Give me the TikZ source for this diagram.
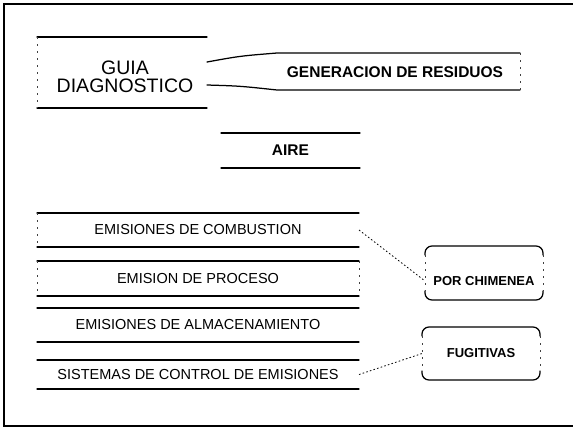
\documentclass[tikz,border=0pt]{standalone}
\usepackage{fontspec}
\setmainfont{Liberation Sans}
\begin{document}
\begin{tikzpicture}[x=1pt,y=-1pt,
  frame/.style={line width=2pt},
  bandline/.style={line width=1.25pt, line cap=round},
  sideline/.style={line width=0.5pt, dash pattern=on 2pt off 5pt, black!75},
  link/.style={line width=0.8pt, dash pattern=on 1.6pt off 2.2pt},
  box/.style={inner sep=0pt, outer sep=0pt},
  bigtxt/.style={inner sep=0pt, font=\fontsize{19.5}{18}\selectfont, align=center},
  boldtxt/.style={inner sep=0pt, font=\fontsize{15.5}{18}\selectfont\bfseries},
  regtxt/.style={inner sep=0pt, font=\fontsize{14.5}{16}\selectfont},
  smalltxt/.style={inner sep=0pt, font=\fontsize{13}{15}\selectfont\bfseries}
]
\useasboundingbox (0,0) rectangle (573,432);
\draw[frame] (573,4) -- (4,4) -- (4,426) -- (573,426);

% GUIA DIAGNOSTICO
\node[box, minimum width=170pt, minimum height=71pt] (guia) at (122,72.5) {};
\node[bigtxt] (guiat) at (125,77) {GUIA\\DIAGNOSTICO};
\draw[bandline] (guia.north west) -- (guia.north east);
\draw[bandline] (guia.south west) -- (guia.south east);
\draw[sideline] (guia.north west) -- (guia.south west);

% GENERACION DE RESIDUOS
\node[box, minimum width=243pt, minimum height=37pt] (gen) at (398.5,71.5) {};
\node[boldtxt] (gent) at (395,72) {GENERACION DE RESIDUOS};
\coordinate (g1) at (207,62);
\coordinate (g2) at (207,85);
\draw[bandline] (g1) .. controls (240,56) .. (gen.north west) -- (gen.north east);
\draw[bandline] (g2) .. controls (240,86) .. (gen.south west) -- (gen.south east);
\draw[sideline] (gen.north east) -- (gen.south east);

% AIRE
\node[box, boldtxt, minimum width=139pt, minimum height=35pt] (aire) at (290.5,150.5) {AIRE};
\draw[bandline] (aire.north west) -- (aire.north east);
\draw[bandline] (aire.south west) -- (aire.south east);

% Emission bands
\node[box, regtxt, minimum width=322pt, minimum height=34pt] (comb) at (198,230) {EMISIONES DE COMBUSTION};
\node[box, regtxt, minimum width=322pt, minimum height=35pt] (proc) at (198,278.5) {EMISION DE PROCESO};
\node[box, regtxt, minimum width=322pt, minimum height=34pt] (alm) at (198,325) {EMISIONES DE ALMACENAMIENTO};
\node[box, regtxt, minimum width=322pt, minimum height=29pt] (sis) at (198,374.5) {SISTEMAS DE CONTROL DE EMISIONES};
\foreach \n in {comb,proc,alm,sis}{
  \draw[bandline] (\n.north west) -- (\n.north east);
  \draw[bandline] (\n.south west) -- (\n.south east);
}
\draw[sideline] (comb.north west) -- (comb.south west);
\draw[sideline] (proc.north west) -- (proc.south west);
\draw[sideline] (proc.north east) -- (proc.south east);

% POR CHIMENEA
\node[box, minimum width=118pt, minimum height=54pt] (chim) at (484,273) {};
\node[smalltxt] (chimt) at (484,281) {POR CHIMENEA};
% FUGITIVAS
\node[box, smalltxt, minimum width=118pt, minimum height=53pt] (fug) at (481,353.5) {FUGITIVAS};
\foreach \n in {chim,fug}{
  \draw[bandline, rounded corners=7pt] ([yshift=-9pt]\n.north west) -- (\n.north west) -- (\n.north east) -- ([yshift=-9pt]\n.north east);
  \draw[bandline, rounded corners=7pt] ([yshift=9pt]\n.south west) -- (\n.south west) -- (\n.south east) -- ([yshift=9pt]\n.south east);
  \draw[sideline] ([yshift=-9pt]\n.north west) -- ([yshift=9pt]\n.south west);
  \draw[sideline] ([yshift=-9pt]\n.north east) -- ([yshift=9pt]\n.south east);
}

% connectors
\draw[link] (comb.east) -- (chim.west |- chimt.west);
\draw[link] (sis.east) -- (fug.west);
\end{tikzpicture}
\end{document}
